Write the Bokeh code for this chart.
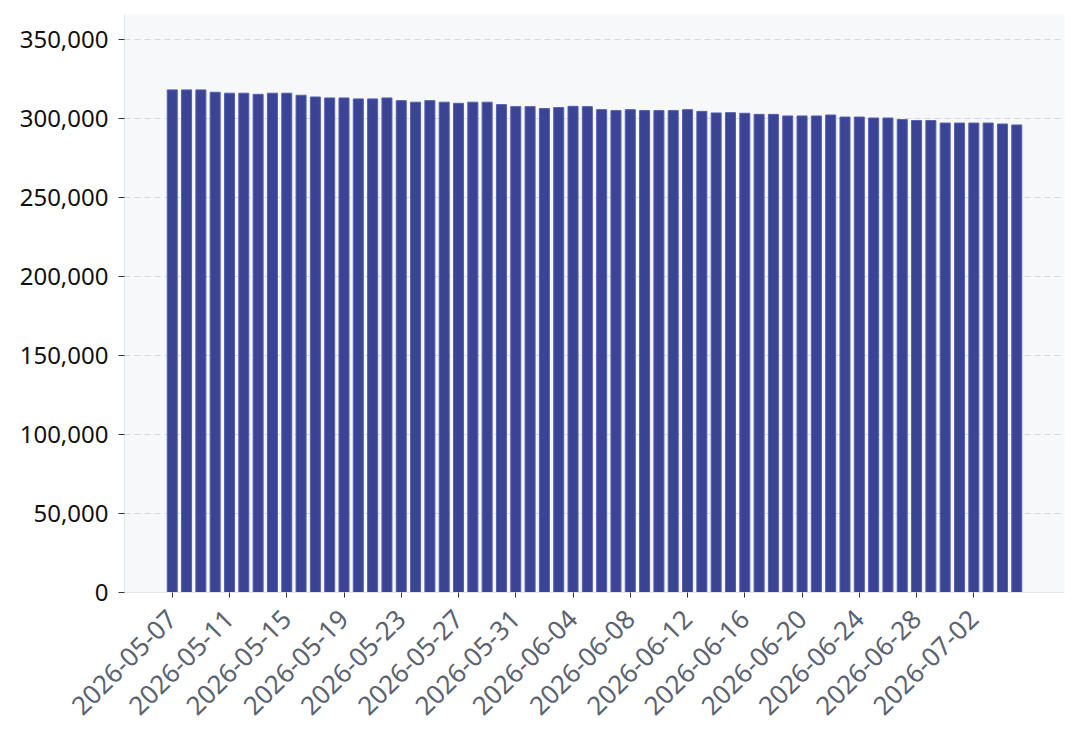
import pandas as pd
from bokeh.plotting import figure
from bokeh.models import ColumnDataSource, Range1d, FixedTicker, DatetimeTickFormatter, NumeralTickFormatter
from bokeh.embed import file_html
from bokeh.resources import INLINE

start_date = "2026-05-07"
n_days = 60
values = [
    318200, 318200, 318200, 316700, 316100, 316100, 315400, 316100, 316100, 314800,
    313700, 313100, 313100, 312500, 312500, 313100, 311400, 310400, 311400, 310400,
    309700, 310400, 310400, 308900, 307600, 307600, 306400, 307000, 307800, 307600,
    305700, 305100, 305700, 305100, 305100, 305100, 305700, 304600, 303600, 303800,
    303400, 302700, 302700, 301700, 301700, 301700, 302300, 301000, 301000, 300400,
    300400, 299400, 298800, 298800, 297200, 297200, 297200, 297200, 296600, 296000,
]
y_ticks = [0, 50000, 100000, 150000, 200000, 250000, 300000, 350000]
tick_every = 4

dates = pd.date_range(start_date, periods=n_days, freq="D")
src = ColumnDataSource(dict(date=dates, value=values))

day_ms = 24 * 3600 * 1000
FONT = "Noto Sans"

p = figure(width=1072, height=734, x_axis_type="datetime",
           output_backend="svg", toolbar_location=None,
           y_range=Range1d(0, max(values) * 1.15),
           min_border_left=124, min_border_right=8, min_border_top=14, min_border_bottom=142)

p.vbar(x="date", top="value", width=0.7 * day_ms, source=src,
       fill_color="#3b4494", line_color="#5660b2", line_width=1)

p.background_fill_color = "#f6f8fa"
p.border_fill_color = "white"
p.outline_line_color = None

p.xgrid.grid_line_color = None
p.ygrid.grid_line_color = "#d5d8de"
p.ygrid.grid_line_dash = "6 4"
p.ygrid.grid_line_width = 1

tick_ms = [d.value // 10**6 for d in dates[::tick_every]]
p.xaxis.ticker = FixedTicker(ticks=tick_ms)
p.xaxis.formatter = DatetimeTickFormatter(days="%Y-%m-%d", months="%Y-%m-%d", hours="%Y-%m-%d")
p.xaxis.major_label_orientation = 0.785398
p.xaxis.major_label_text_color = "#5b6270"
p.xaxis.major_label_text_font = FONT
p.xaxis.major_label_text_font_size = "26px"
p.xaxis.minor_tick_line_color = None
p.xaxis.major_tick_in = 0
p.xaxis.major_tick_out = 5
p.xaxis.major_tick_line_color = "#333333"
p.xaxis.axis_line_color = "#e3e6ea"
p.xaxis.major_label_standoff = 17

p.yaxis.ticker = FixedTicker(ticks=y_ticks)
p.yaxis.formatter = NumeralTickFormatter(format="0,0")
p.yaxis.major_label_text_color = "#111111"
p.yaxis.major_label_text_font = FONT
p.yaxis.major_label_text_font_size = "24px"
p.yaxis.minor_tick_line_color = None
p.yaxis.major_tick_in = 0
p.yaxis.major_tick_out = 6
p.yaxis.major_tick_line_color = "#333333"
p.yaxis.axis_line_color = "#e3e6ea"
p.yaxis.major_label_standoff = 10

open("out.html", "w").write(file_html(p, INLINE))
